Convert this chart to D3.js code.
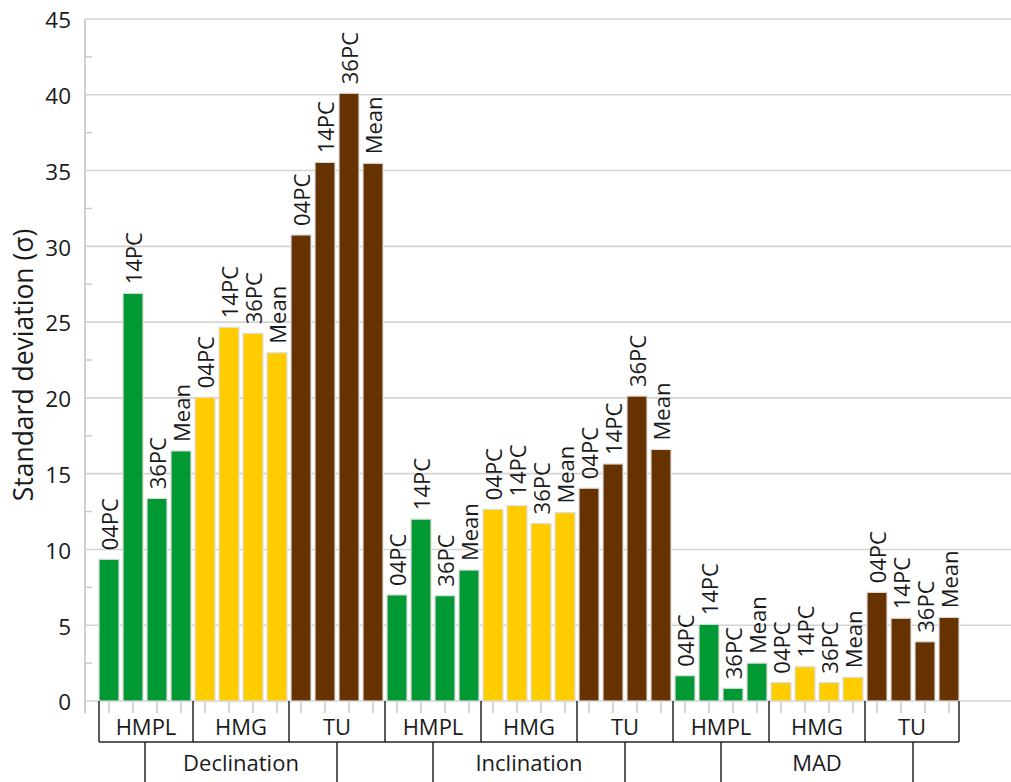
<!DOCTYPE html>
<html>
<head>
<meta charset="utf-8">
<script src="https://cdn.jsdelivr.net/npm/d3@7"></script>
<style>
  html, body { margin: 0; padding: 0; background: #fff; }
  svg { display: block; }
  text { font-family: "Open Sans", "Noto Sans", sans-serif; fill: #1a1a1a; }
</style>
</head>
<body>
<svg id="chart" width="1011" height="782"></svg>
<script>
// Outer grouping (second axis row), inner grouping (first axis row), bar labels
const measures = ["Declination", "Inclination", "MAD"];
const methods = ["HMPL", "HMG", "TU"];
const components = ["04PC", "14PC", "36PC", "Mean"];

// Standard deviation per method × component, in the order of methods then components
const declination = [9.35, 26.9, 13.37, 16.5, 20.04, 24.66, 24.26, 22.98, 30.75, 35.54, 40.1, 35.48];
const inclination = [7.0, 12.0, 6.95, 8.64, 12.65, 12.89, 11.72, 12.43, 14.04, 15.64, 20.12, 16.6];
const mad = [1.67, 5.06, 0.84, 2.5, 1.21, 2.26, 1.21, 1.56, 7.17, 5.46, 3.91, 5.52];

const yTicks = [0, 5, 10, 15, 20, 25, 30, 35, 40, 45];
const yMinorTicks = [2.5, 7.5, 12.5, 17.5, 22.5, 27.5, 32.5, 37.5, 42.5];
const methodColors = { HMPL: "#009933", HMG: "#ffcc00", TU: "#663300" };

const seriesByMeasure = [declination, inclination, mad];

// Flatten to one row per bar
const bars = [];
measures.forEach((m, mi) => {
  methods.forEach((meth, ki) => {
    components.forEach((c, ci) => {
      bars.push({
        index: bars.length,
        measure: m, method: meth, component: c,
        value: seriesByMeasure[mi][ki * components.length + ci]
      });
    });
  });
});

const svg = d3.select("#chart");
const W = 1011, H = 782;
const plot = { left: 85, right: 1011, top: 19, bottom: 701 };

const y = d3.scaleLinear().domain([0, 45]).range([plot.bottom, plot.top]);
const x = d3.scaleBand()
  .domain(d3.range(bars.length))
  .range([97, 961])
  .paddingInner(1 / 6)
  .paddingOuter(1 / 12);
const bw = x.bandwidth();
const gap = x.step() - bw;

// Gridlines
svg.append("g")
  .selectAll("line")
  .data(yTicks)
  .join("line")
  .attr("x1", plot.left).attr("x2", plot.right)
  .attr("y1", d => y(d)).attr("y2", d => y(d))
  .attr("stroke", "#d4d4d4").attr("stroke-width", 1.6);

// Minor ticks on the value axis (inside the plot)
svg.append("g")
  .selectAll("line")
  .data(yMinorTicks)
  .join("line")
  .attr("x1", plot.left).attr("x2", plot.left + 7)
  .attr("y1", d => y(d)).attr("y2", d => y(d))
  .attr("stroke", "#c8c8c8").attr("stroke-width", 1.4);

// Value axis line
svg.append("line")
  .attr("x1", plot.left).attr("x2", plot.left)
  .attr("y1", plot.top).attr("y2", plot.bottom + 12)
  .attr("stroke", "#c4c4c4").attr("stroke-width", 1.6);

// Value axis labels
svg.append("g")
  .selectAll("text")
  .data(yTicks)
  .join("text")
  .attr("x", 71)
  .attr("y", d => y(d) + 1.5)
  .attr("dy", "0.35em")
  .attr("text-anchor", "end")
  .attr("font-size", 22.5)
  .text(d => d);

// Value axis title
svg.append("text")
  .attr("transform", `translate(33, ${(plot.top + plot.bottom) / 2 + 5}) rotate(-90)`)
  .attr("text-anchor", "middle")
  .attr("font-size", 26.5)
  .text("Standard deviation (σ)");

// Category tick marks under each bar
svg.append("g")
  .selectAll("line")
  .data(bars)
  .join("line")
  .attr("x1", d => x(d.index) + bw / 2).attr("x2", d => x(d.index) + bw / 2)
  .attr("y1", plot.bottom).attr("y2", plot.bottom + 12)
  .attr("stroke", "#c4c4c4").attr("stroke-width", 1.4);

// Bars
svg.append("g")
  .selectAll("rect")
  .data(bars)
  .join("rect")
  .attr("x", d => x(d.index))
  .attr("y", d => y(d.value))
  .attr("width", bw)
  .attr("height", d => y(0) - y(d.value))
  .attr("fill", d => methodColors[d.method])
  .attr("stroke", "#dedede")
  .attr("stroke-width", 1.2);

// Bar labels, rotated, sitting above each bar
svg.append("g")
  .selectAll("text")
  .data(bars)
  .join("text")
  .attr("transform", d => `translate(${x(d.index) + bw / 2 + 1}, ${y(d.value) - 9}) rotate(-90)`)
  .attr("dy", "0.35em")
  .attr("text-anchor", "start")
  .attr("font-size", 22)
  .text(d => d.component);

// Grouped category axis
const perMethod = components.length;
const perMeasure = methods.length * perMethod;
function boundary(i) {
  if (i <= 0) return x(0);
  if (i >= bars.length) return x(bars.length - 1) + bw;
  return x(i) - gap / 2;
}

const row1Top = plot.bottom, row1Bottom = 742, row2Bottom = 800;
const axisInk = "#262626";
const groups = svg.append("g");

// First row: method boxes
const methodGroups = d3.range(measures.length * methods.length).map(g => ({
  name: methods[g % methods.length],
  start: g * perMethod,
  end: (g + 1) * perMethod
}));
const edges1 = d3.range(methodGroups.length + 1).map(k => boundary(k * perMethod));
groups.selectAll("line.r1")
  .data(edges1)
  .join("line")
  .attr("class", "r1")
  .attr("x1", d => d).attr("x2", d => d)
  .attr("y1", row1Top).attr("y2", row1Bottom)
  .attr("stroke", axisInk).attr("stroke-width", 1.5);
groups.append("line")
  .attr("x1", boundary(0)).attr("x2", boundary(bars.length))
  .attr("y1", row1Bottom).attr("y2", row1Bottom)
  .attr("stroke", axisInk).attr("stroke-width", 1.5);
groups.selectAll("text.r1")
  .data(methodGroups)
  .join("text")
  .attr("class", "r1")
  .attr("x", d => (boundary(d.start) + boundary(d.end)) / 2)
  .attr("y", 734.5)
  .attr("text-anchor", "middle")
  .attr("font-size", 22)
  .text(d => d.name);

// Second row: measure boxes, offset by half a method group
const half = perMethod / 2;
const measureGroups = measures.map((m, i) => ({
  name: m,
  start: i * perMeasure + half,
  end: (i + 1) * perMeasure - half
}));
groups.selectAll("g.r2")
  .data(measureGroups)
  .join("g")
  .attr("class", "r2")
  .each(function (d) {
    const g = d3.select(this);
    [d.start, d.end].forEach(i => {
      g.append("line")
        .attr("x1", boundary(i)).attr("x2", boundary(i))
        .attr("y1", row1Bottom).attr("y2", row2Bottom)
        .attr("stroke", axisInk).attr("stroke-width", 1.5);
    });
    g.append("text")
      .attr("x", (boundary(d.start) + boundary(d.end)) / 2)
      .attr("y", 770.5)
      .attr("text-anchor", "middle")
      .attr("font-size", 22)
      .text(d.name);
  });
</script>
</body>
</html>
